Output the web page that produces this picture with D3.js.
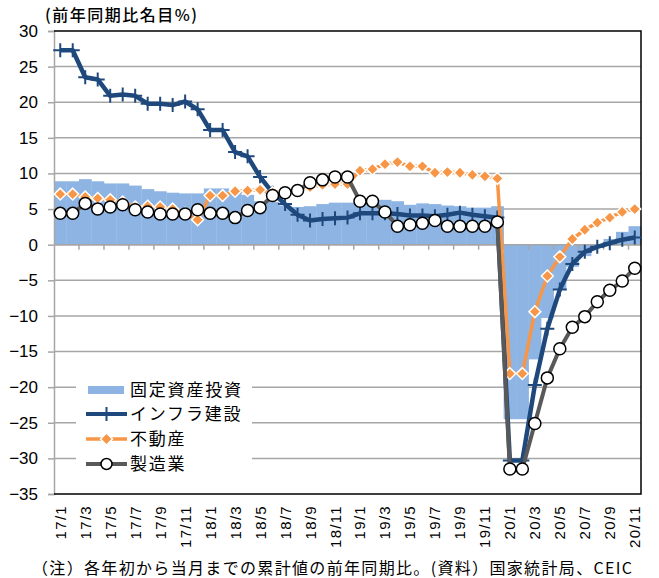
<!DOCTYPE html>
<html>
<head>
<meta charset="utf-8">
<script src="https://cdn.jsdelivr.net/npm/d3@7"></script>
<style>
  body { margin: 0; background: #fff; }
  svg { display: block; }
</style>
</head>
<body>
<div id="chart"></div>
<script>
// months (Jan/Feb are reported together, so 1 and 2 share the value)
const months = [
  '17/1','17/2','17/3','17/4','17/5','17/6','17/7','17/8','17/9','17/10','17/11','17/12',
  '18/1','18/2','18/3','18/4','18/5','18/6','18/7','18/8','18/9','18/10','18/11','18/12',
  '19/1','19/2','19/3','19/4','19/5','19/6','19/7','19/8','19/9','19/10','19/11','19/12',
  '20/1','20/2','20/3','20/4','20/5','20/6','20/7','20/8','20/9','20/10','20/11'
];

const faiValues = [
  8.9, 8.9, 9.2, 8.9, 8.6, 8.6, 8.3, 7.8, 7.5, 7.3, 7.2, 7.2,
  7.9, 7.9, 7.5, 7.0, 6.1, 6.0, 5.5, 5.3, 5.4, 5.7, 5.9, 5.9,
  6.1, 6.1, 6.3, 6.1, 5.6, 5.8, 5.7, 5.5, 5.4, 5.2, 5.2, 5.4,
  -24.5, -24.5, -16.1, -10.3, -6.3, -3.1, -1.6, -0.3, 0.8, 1.8, 2.6
];

const infraValues = [
  27.3, 27.3, 23.5, 23.2, 20.9, 21.1, 20.9, 19.8, 19.8, 19.6, 20.1, 19.0,
  16.1, 16.1, 13.0, 12.4, 9.5, 7.3, 5.7, 4.2, 3.4, 3.6, 3.7, 3.8,
  4.4, 4.4, 4.4, 4.3, 4.1, 4.1, 4.0, 4.2, 4.5, 4.2, 4.0, 3.8,
  -30.3, -30.3, -19.7, -11.8, -6.3, -2.7, -1.0, -0.3, 0.2, 0.7, 1.0
];

const realEstateValues = [
  7.1, 7.1, 6.7, 6.5, 6.3, 6.0, 5.3, 5.4, 5.3, 5.0, 4.4, 3.5,
  6.9, 6.9, 7.5, 7.6, 7.7, 7.3, 7.4, 7.8, 8.1, 8.4, 8.5, 8.5,
  10.4, 10.6, 11.3, 11.6, 11.0, 11.0, 10.1, 10.2, 10.1, 9.8, 9.6, 9.3,
  -18.1, -18.1, -9.4, -4.4, -1.7, 0.8, 2.1, 3.1, 3.8, 4.6, 5.0
];

const mfgValues = [
  4.4, 4.4, 5.8, 5.0, 5.3, 5.6, 4.9, 4.6, 4.3, 4.3, 4.3, 4.9,
  4.4, 4.4, 3.8, 4.8, 5.2, 6.9, 7.3, 7.6, 8.7, 9.1, 9.5, 9.5,
  6.1, 6.1, 4.6, 2.6, 2.8, 3.0, 3.4, 2.6, 2.6, 2.6, 2.6, 3.2,
  -31.5, -31.5, -25.1, -18.7, -14.6, -11.6, -10.1, -8.0, -6.4, -5.1, -3.3
];

const yTicks = [30, 25, 20, 15, 10, 5, 0, -5, -10, -15, -20, -25, -30, -35];

const legendLabels = ['固定資産投資', 'インフラ建設', '不動産', '製造業'];
const yTitle = '(前年同期比名目%)';
const footnote = '（注）各年初から当月までの累計値の前年同期比。(資料）国家統計局、CEIC';

const width = 659, height = 578;
const plotLeft = 54, plotRight = 641, plotTop = 31, plotBottom = 494;

const colors = {
  fai: '#8DB4E2',
  infra: '#1F497D',
  realEstate: '#F79646',
  mfg: '#595959',
  grid: '#A6A6A6'
};

const svg = d3.select('#chart')
  .append('svg')
  .attr('width', width)
  .attr('height', height)

const x = d3.scaleBand()
  .domain(months)
  .range([plotLeft, plotRight])
  .paddingInner(0)
  .paddingOuter(0)

const y = d3.scaleLinear()
  .domain([-35, 30])
  .range([plotBottom, plotTop])

const cx = d => x(d) + x.bandwidth() / 2

// gridlines
svg.append('g')
  .selectAll('line')
  .data(yTicks.filter(t => t !== -35 && t !== 30))
  .enter()
  .append('line')
  .attr('x1', plotLeft)
  .attr('x2', plotRight)
  .attr('y1', d => y(d))
  .attr('y2', d => y(d))
  .attr('stroke', colors.grid)
  .attr('stroke-width', 1.5)

// fixed asset investment bars
svg.append('g')
  .selectAll('rect')
  .data(months)
  .enter()
  .append('rect')
  .attr('x', d => x(d))
  .attr('width', x.bandwidth() + 0.3)
  .attr('y', (d, i) => y(Math.max(0, faiValues[i])))
  .attr('height', (d, i) => Math.abs(y(faiValues[i]) - y(0)))
  .attr('fill', colors.fai)

// zero axis with category ticks
svg.append('line')
  .attr('x1', plotLeft).attr('x2', plotRight)
  .attr('y1', y(0)).attr('y2', y(0))
  .attr('stroke', colors.grid)
  .attr('stroke-width', 1.5)

svg.append('g')
  .selectAll('line')
  .data(months.filter((d, i) => i > 0 && i % 2 === 0))
  .enter()
  .append('line')
  .attr('x1', d => x(d))
  .attr('x2', d => x(d))
  .attr('y1', y(0))
  .attr('y2', y(0) + 5)
  .attr('stroke', colors.grid)
  .attr('stroke-width', 1.5)

// y axis
const yAxis = svg.append('g')
  .attr('transform', `translate(${plotLeft},0)`)
  .call(d3.axisLeft(y).tickValues(yTicks).tickSize(6).tickPadding(10))

yAxis.select('.domain').attr('stroke', colors.grid).attr('stroke-width', 1.5)
yAxis.selectAll('.tick line').attr('stroke', colors.grid).attr('stroke-width', 1.5)
yAxis.selectAll('.tick text')
  .attr('font-family', 'Liberation Sans, Arial, sans-serif')
  .attr('font-size', 17)
  .attr('fill', '#000')

// plot frame (top, right, bottom)
svg.append('path')
  .attr('d', `M${plotLeft},${plotTop}H${plotRight}V${plotBottom}H${plotLeft}`)
  .attr('fill', 'none')
  .attr('stroke', '#000')
  .attr('stroke-width', 1.5)

// x labels
svg.append('g')
  .selectAll('text')
  .data(months.filter((d, i) => i % 2 === 0))
  .enter()
  .append('text')
  .attr('transform', d => `translate(${cx(d) + 5.5},${plotBottom + 11}) rotate(-90)`)
  .attr('text-anchor', 'end')
  .attr('font-family', 'Liberation Sans, Arial, sans-serif')
  .attr('font-size', 15)
  .attr('letter-spacing', 1.3)
  .text(d => d)

// line series
const line = vals => d3.line()
  .x(d => cx(d))
  .y((d, i) => y(vals[i]))(months)

svg.append('path')
  .attr('d', line(infraValues))
  .attr('fill', 'none')
  .attr('stroke', colors.infra)
  .attr('stroke-width', 4.5)
  .attr('stroke-linejoin', 'round')

svg.append('g')
  .selectAll('path')
  .data(months)
  .enter()
  .append('path')
  .attr('d', (d, i) => `M${cx(d) - 7},${y(infraValues[i])}h14M${cx(d)},${y(infraValues[i]) - 7}v14`)
  .attr('stroke', colors.infra)
  .attr('stroke-width', 2)

svg.append('path')
  .attr('d', line(realEstateValues))
  .attr('fill', 'none')
  .attr('stroke', colors.realEstate)
  .attr('stroke-width', 3.5)
  .attr('stroke-linejoin', 'round')

const diamond = d3.symbol().type(d3.symbolDiamond2).size(90)

svg.append('g')
  .selectAll('path')
  .data(months)
  .enter()
  .append('path')
  .attr('d', diamond)
  .attr('transform', (d, i) => `translate(${cx(d)},${y(realEstateValues[i])})`)
  .attr('fill', colors.realEstate)
  .attr('stroke', '#fff')
  .attr('stroke-width', 1.5)

svg.append('path')
  .attr('d', line(mfgValues))
  .attr('fill', 'none')
  .attr('stroke', colors.mfg)
  .attr('stroke-width', 4)
  .attr('stroke-linejoin', 'round')

svg.append('g')
  .selectAll('circle')
  .data(months)
  .enter()
  .append('circle')
  .attr('cx', d => cx(d))
  .attr('cy', (d, i) => y(mfgValues[i]))
  .attr('r', 6)
  .attr('fill', '#fff')
  .attr('stroke', '#000')
  .attr('stroke-width', 1.5)

// legend
const legend = svg.append('g')

legend.append('rect')
  .attr('x', 76).attr('y', 372)
  .attr('width', 176).attr('height', 104)
  .attr('fill', '#fff')

const legendY = [390, 414, 439, 464]
const jpFont = '"Noto Sans CJK JP", sans-serif'

legend.append('rect')
  .attr('x', 88).attr('y', legendY[0] - 4)
  .attr('width', 36).attr('height', 8)
  .attr('fill', colors.fai)

legend.append('line')
  .attr('x1', 86).attr('x2', 127)
  .attr('y1', legendY[1]).attr('y2', legendY[1])
  .attr('stroke', colors.infra).attr('stroke-width', 4)
legend.append('path')
  .attr('d', `M106.5,${legendY[1] - 7}v14`)
  .attr('stroke', colors.infra).attr('stroke-width', 2)

legend.append('line')
  .attr('x1', 86).attr('x2', 127)
  .attr('y1', legendY[2]).attr('y2', legendY[2])
  .attr('stroke', colors.realEstate).attr('stroke-width', 3.5)
legend.append('path')
  .attr('d', diamond)
  .attr('transform', `translate(106.5,${legendY[2]})`)
  .attr('fill', colors.realEstate)
  .attr('stroke', '#fff').attr('stroke-width', 1.5)

legend.append('line')
  .attr('x1', 86).attr('x2', 127)
  .attr('y1', legendY[3]).attr('y2', legendY[3])
  .attr('stroke', colors.mfg).attr('stroke-width', 4)
legend.append('circle')
  .attr('cx', 106.5).attr('cy', legendY[3]).attr('r', 5.5)
  .attr('fill', '#fff').attr('stroke', '#000').attr('stroke-width', 1.5)

legend.selectAll('.legend-text')
  .data(legendLabels)
  .enter()
  .append('text')
  .attr('x', 130)
  .attr('y', (d, i) => legendY[i])
  .attr('dy', '0.36em')
  .attr('font-family', jpFont)
  .attr('font-size', 17)
  .attr('letter-spacing', 1.8)
  .text(d => d)

// titles
svg.append('text')
  .attr('x', 45)
  .attr('y', 21)
  .attr('font-family', jpFont)
  .attr('font-size', 16)
  .attr('font-weight', 500)
  .attr('letter-spacing', 1.5)
  .text(yTitle)

svg.append('text')
  .attr('x', 32)
  .attr('y', 574)
  .attr('font-family', jpFont)
  .attr('font-size', 16)
  .attr('textLength', 600)
  .attr('lengthAdjust', 'spacing')
  .text(footnote)
</script>
</body>
</html>
